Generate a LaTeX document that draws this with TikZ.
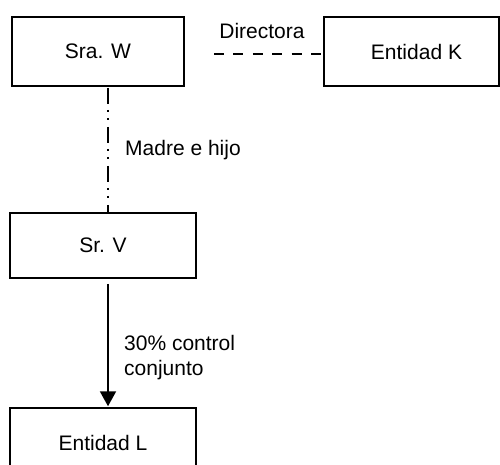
\documentclass[tikz,border=0pt]{standalone}
\usepackage{fontspec}
\setmainfont{Liberation Sans}
\usetikzlibrary{arrows.meta}
\begin{document}
\begin{tikzpicture}[x=1pt,y=-1pt,
  box/.style={draw,line width=1.5pt,inner sep=0pt,font=\fontsize{21}{25}\selectfont},
  lbl/.style={inner sep=0pt,font=\fontsize{21}{25}\selectfont},
  link/.style={line width=1.5pt}]
\useasboundingbox (0,0) rectangle (500,464);
% people and entities
\node[box,minimum width=172pt,minimum height=69pt] (sraW) at (98,51.5) {Sra. W};
\node[box,minimum width=175pt,minimum height=69pt] (entK) at (411.5,51.5) {\hspace*{10pt}Entidad K};
\node[box,minimum width=186pt,minimum height=65pt] (srV) at (103,245.5) {Sr. V};
\node[box,minimum width=186pt,minimum height=70pt] (entL) at (103,443) {Entidad L};
% anchor points of the connectors
\coordinate (vx) at (108,0);
\coordinate (d0) at (214,54);
% director relation
\draw[link,dash pattern=on 10pt off 9.4pt] (d0) -- (d0 -| entK.west);
\node[lbl,anchor=base] (dirL) at (262,38) {Directora};
% mother and son
\draw[link,dash pattern=on 16pt off 6pt on 2pt off 6pt on 2pt off 7pt,shorten <=1pt]
  (sraW.south -| vx) -- (srV.north -| vx);
\node[lbl,anchor=base west] (famL) at (125,155) {Madre e hijo};
% joint control
\draw[line width=2pt,-{Triangle[width=16pt,length=15pt]},shorten <=5pt,shorten >=1pt]
  (srV.south -| vx) -- (entL.north -| vx);
\node[lbl,anchor=base west] (ctlA) at (124,350) {30\% control};
\node[lbl,anchor=base west] (ctlB) at (124,375) {conjunto};
\end{tikzpicture}
\end{document}
